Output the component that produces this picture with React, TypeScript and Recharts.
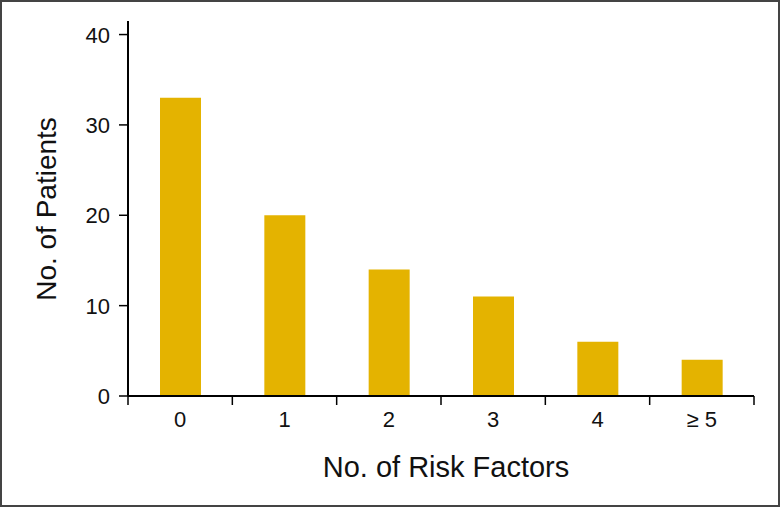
import { BarChart, Bar, XAxis, YAxis } from "recharts";

const riskFactors = ["0", "1", "2", "3", "4", "≥ 5"];
const patientCounts = [33, 20, 14, 11, 6, 4];
const yTicks = [0, 10, 20, 30, 40];
const xBoundaries = [0, 1, 2, 3, 4, 5, 6];

const data = riskFactors.map((name, i) => ({ pos: i + 0.5, name, value: patientCounts[i] }));

const FONT = "'Liberation Sans', Arial, sans-serif";
const BAND = 626 / 6;

function CategoryTick(props: any) {
  const { x, y, payload } = props;
  const label = riskFactors[payload.value];
  if (label === undefined) return null;
  return (
    <text
      x={x + BAND / 2}
      y={y + 20}
      textAnchor="middle"
      style={{ fontSize: "22px", fontFamily: FONT }}
      fill="#111"
    >
      {label}
    </text>
  );
}

function YTick(props: any) {
  const { x, y, payload } = props;
  return (
    <text x={x} y={y} dy={8} textAnchor="end" style={{ fontSize: "22px", fontFamily: FONT }} fill="#111">
      {payload.value}
    </text>
  );
}

function YTitle() {
  const cy = 209;
  return (
    <text
      x={46}
      y={cy}
      transform={`rotate(-90, 46, ${cy})`}
      textAnchor="middle"
      dominantBaseline="central"
      style={{ fontSize: "28px", fontFamily: FONT }}
      fill="#111"
    >
      No. of Patients
    </text>
  );
}

function XTitle() {
  return (
    <text x={446} y={477} textAnchor="middle" style={{ fontSize: "29px", fontFamily: FONT }} fill="#111">
      No. of Risk Factors
    </text>
  );
}

export default function App() {
  return (
    <div
      style={{
        position: "fixed",
        top: 0,
        left: 0,
        width: 780,
        height: 507,
        boxSizing: "border-box",
        border: "2px solid #444",
        background: "#fff",
      }}
    >
      <div style={{ position: "absolute", top: -2, left: -2 }}>
        <BarChart
          width={780}
          height={507}
          data={data}
          margin={{ top: 21, right: 26, bottom: 0, left: 0 }}
        >
          <XAxis
            dataKey="pos"
            type="number"
            domain={[0, 6]}
            ticks={xBoundaries}
            interval={0}
            height={111}
            tickSize={9}
            tick={<CategoryTick />}
            axisLine={{ stroke: "#000", strokeWidth: 2 }}
            tickLine={{ stroke: "#000", strokeWidth: 1.5 }}
            label={{ content: <XTitle /> }}
          />
          <YAxis
            type="number"
            domain={[0, 41.5]}
            ticks={yTicks}
            interval={0}
            width={128}
            tickSize={9}
            tickMargin={9}
            tick={<YTick />}
            axisLine={{ stroke: "#000", strokeWidth: 2 }}
            tickLine={{ stroke: "#000", strokeWidth: 1.5 }}
            label={{ content: <YTitle /> }}
          />
          <Bar dataKey="value" fill="#E4B300" barSize={41} isAnimationActive={false} />
        </BarChart>
      </div>
    </div>
  );
}
